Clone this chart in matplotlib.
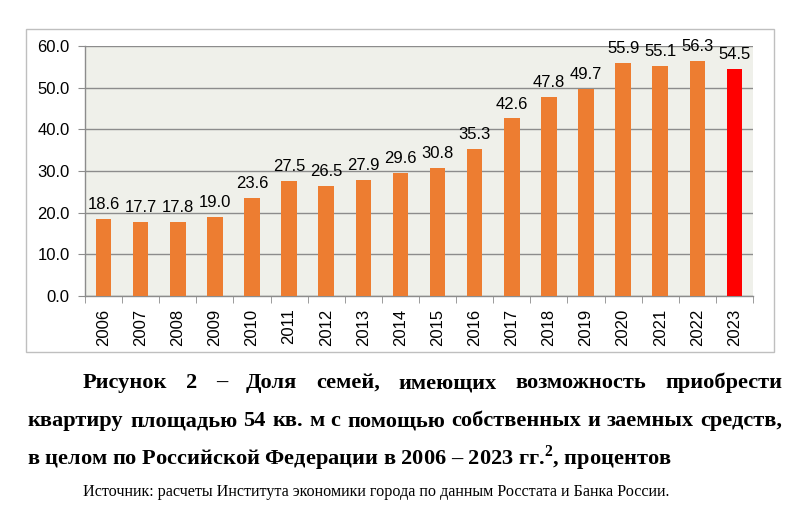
import matplotlib
matplotlib.use("Agg")
import matplotlib.pyplot as plt
from matplotlib.patches import Rectangle
import numpy as np

plt.rcParams["mathtext.fontset"] = "custom"
plt.rcParams["mathtext.rm"] = "Liberation Serif:bold"
plt.rcParams["mathtext.bf"] = "Liberation Serif:bold"

years = ["2006", "2007", "2008", "2009", "2010", "2011", "2012", "2013", "2014",
         "2015", "2016", "2017", "2018", "2019", "2020", "2021", "2022", "2023"]
values = [18.6, 17.7, 17.8, 19.0, 23.6, 27.5, 26.5, 27.9, 29.6,
          30.8, 35.3, 42.6, 47.8, 49.7, 55.9, 55.1, 56.3, 54.5]
yticks = [0, 10, 20, 30, 40, 50, 60]

caption_lines = [
    "Рисунок 2 – Доля семей, имеющих возможность приобрести",
    "квартиру площадью 54 кв. м с помощью собственных и заемных средств,",
    "в целом по Российской Федерации в 2006 – 2023 гг.$^{\\mathbf{2}}$, процентов",
]
source = "Источник: расчеты Института экономики города по данным Росстата и Банка России."

W, H = 800, 507
fig = plt.figure(figsize=(W / 100, H / 100), dpi=100)
fig.patch.set_facecolor("white")

def px(x0, y0, x1, y1):
    return [x0 / W, 1 - y1 / H, (x1 - x0) / W, (y1 - y0) / H]

# outer chart frame
frame = Rectangle((26 / W, 1 - 352 / H), (774 - 26) / W, (352 - 29) / H,
                  transform=fig.transFigure, facecolor="white",
                  edgecolor="#BFBFBF", linewidth=1.0, zorder=-5)
fig.patches.append(frame)

ax = fig.add_axes(px(85, 46, 753, 296))
ax.set_facecolor("#EFF0EA")
x = np.arange(len(years))
colors = ["#ED7D31"] * (len(years) - 1) + ["#FF0000"]
ax.bar(x, values, width=0.42, color=colors, zorder=3)
ax.set_xlim(-0.5, len(years) - 0.5)
ax.set_ylim(0, 60)
ax.set_yticks(yticks)
ax.set_yticklabels([f"{v:.1f}" for v in yticks], fontsize=12, family="Liberation Sans")
ax.yaxis.grid(True, color="#8C8C8C", linewidth=1.0, zorder=1)
ax.set_axisbelow(True)
ax.tick_params(axis="y", length=5, color="#8C8C8C", pad=6, labelcolor="black")
ax.set_xticks(x)
ax.set_xticklabels(years, rotation=90, fontsize=12, family="Liberation Sans")
ax.tick_params(axis="x", length=0, pad=9)
ax.set_xticks(np.arange(-0.5, len(years), 1), minor=True)
ax.tick_params(axis="x", which="minor", length=5, color="#8C8C8C")
for s in ["top", "right"]:
    ax.spines[s].set_visible(False)
for s in ["left", "bottom"]:
    ax.spines[s].set_color("#8C8C8C")
    ax.spines[s].set_linewidth(1.0)

for xi, v in zip(x, values):
    ax.annotate(f"{v:.1f}", (xi, v), xytext=(0, 5), textcoords="offset points",
                ha="center", va="bottom", fontsize=12, family="Liberation Sans")

# caption
fig.canvas.draw()
renderer = fig.canvas.get_renderer()

def text_width(s, size, weight):
    t = fig.text(0, 0, s, fontsize=size, family="Liberation Serif", weight=weight)
    w = t.get_window_extent(renderer).width
    t.remove()
    return w

cap_size = 10 * 646 / text_width(caption_lines[2], 10, "bold")
cap_rows = [(caption_lines[0], 83, 782, 383, True),
            (caption_lines[1], 28, 782, 421, True),
            (caption_lines[2], 27, None, 458, False)]
for line, x0, x1, yc, justify in cap_rows:
    if not justify:
        fig.text(x0 / W, 1 - yc / H, line, fontsize=cap_size, family="Liberation Serif",
                 weight="bold", va="center", ha="left")
        continue
    words = line.split(" ")
    widths = [text_width(wd, cap_size, "bold") for wd in words]
    gap = ((x1 - x0) - sum(widths)) / (len(words) - 1)
    cx = x0
    for wd, wdw in zip(words, widths):
        fig.text(cx / W, 1 - yc / H, wd, fontsize=cap_size, family="Liberation Serif",
                 weight="bold", va="center", ha="left")
        cx += wdw + gap

src_size = 10 * 593 / text_width(source, 10, "normal")
fig.text(83 / W, 1 - 492 / H, source, fontsize=src_size, family="Liberation Serif",
         va="center", ha="left")

fig.savefig("out.png", dpi=100)
